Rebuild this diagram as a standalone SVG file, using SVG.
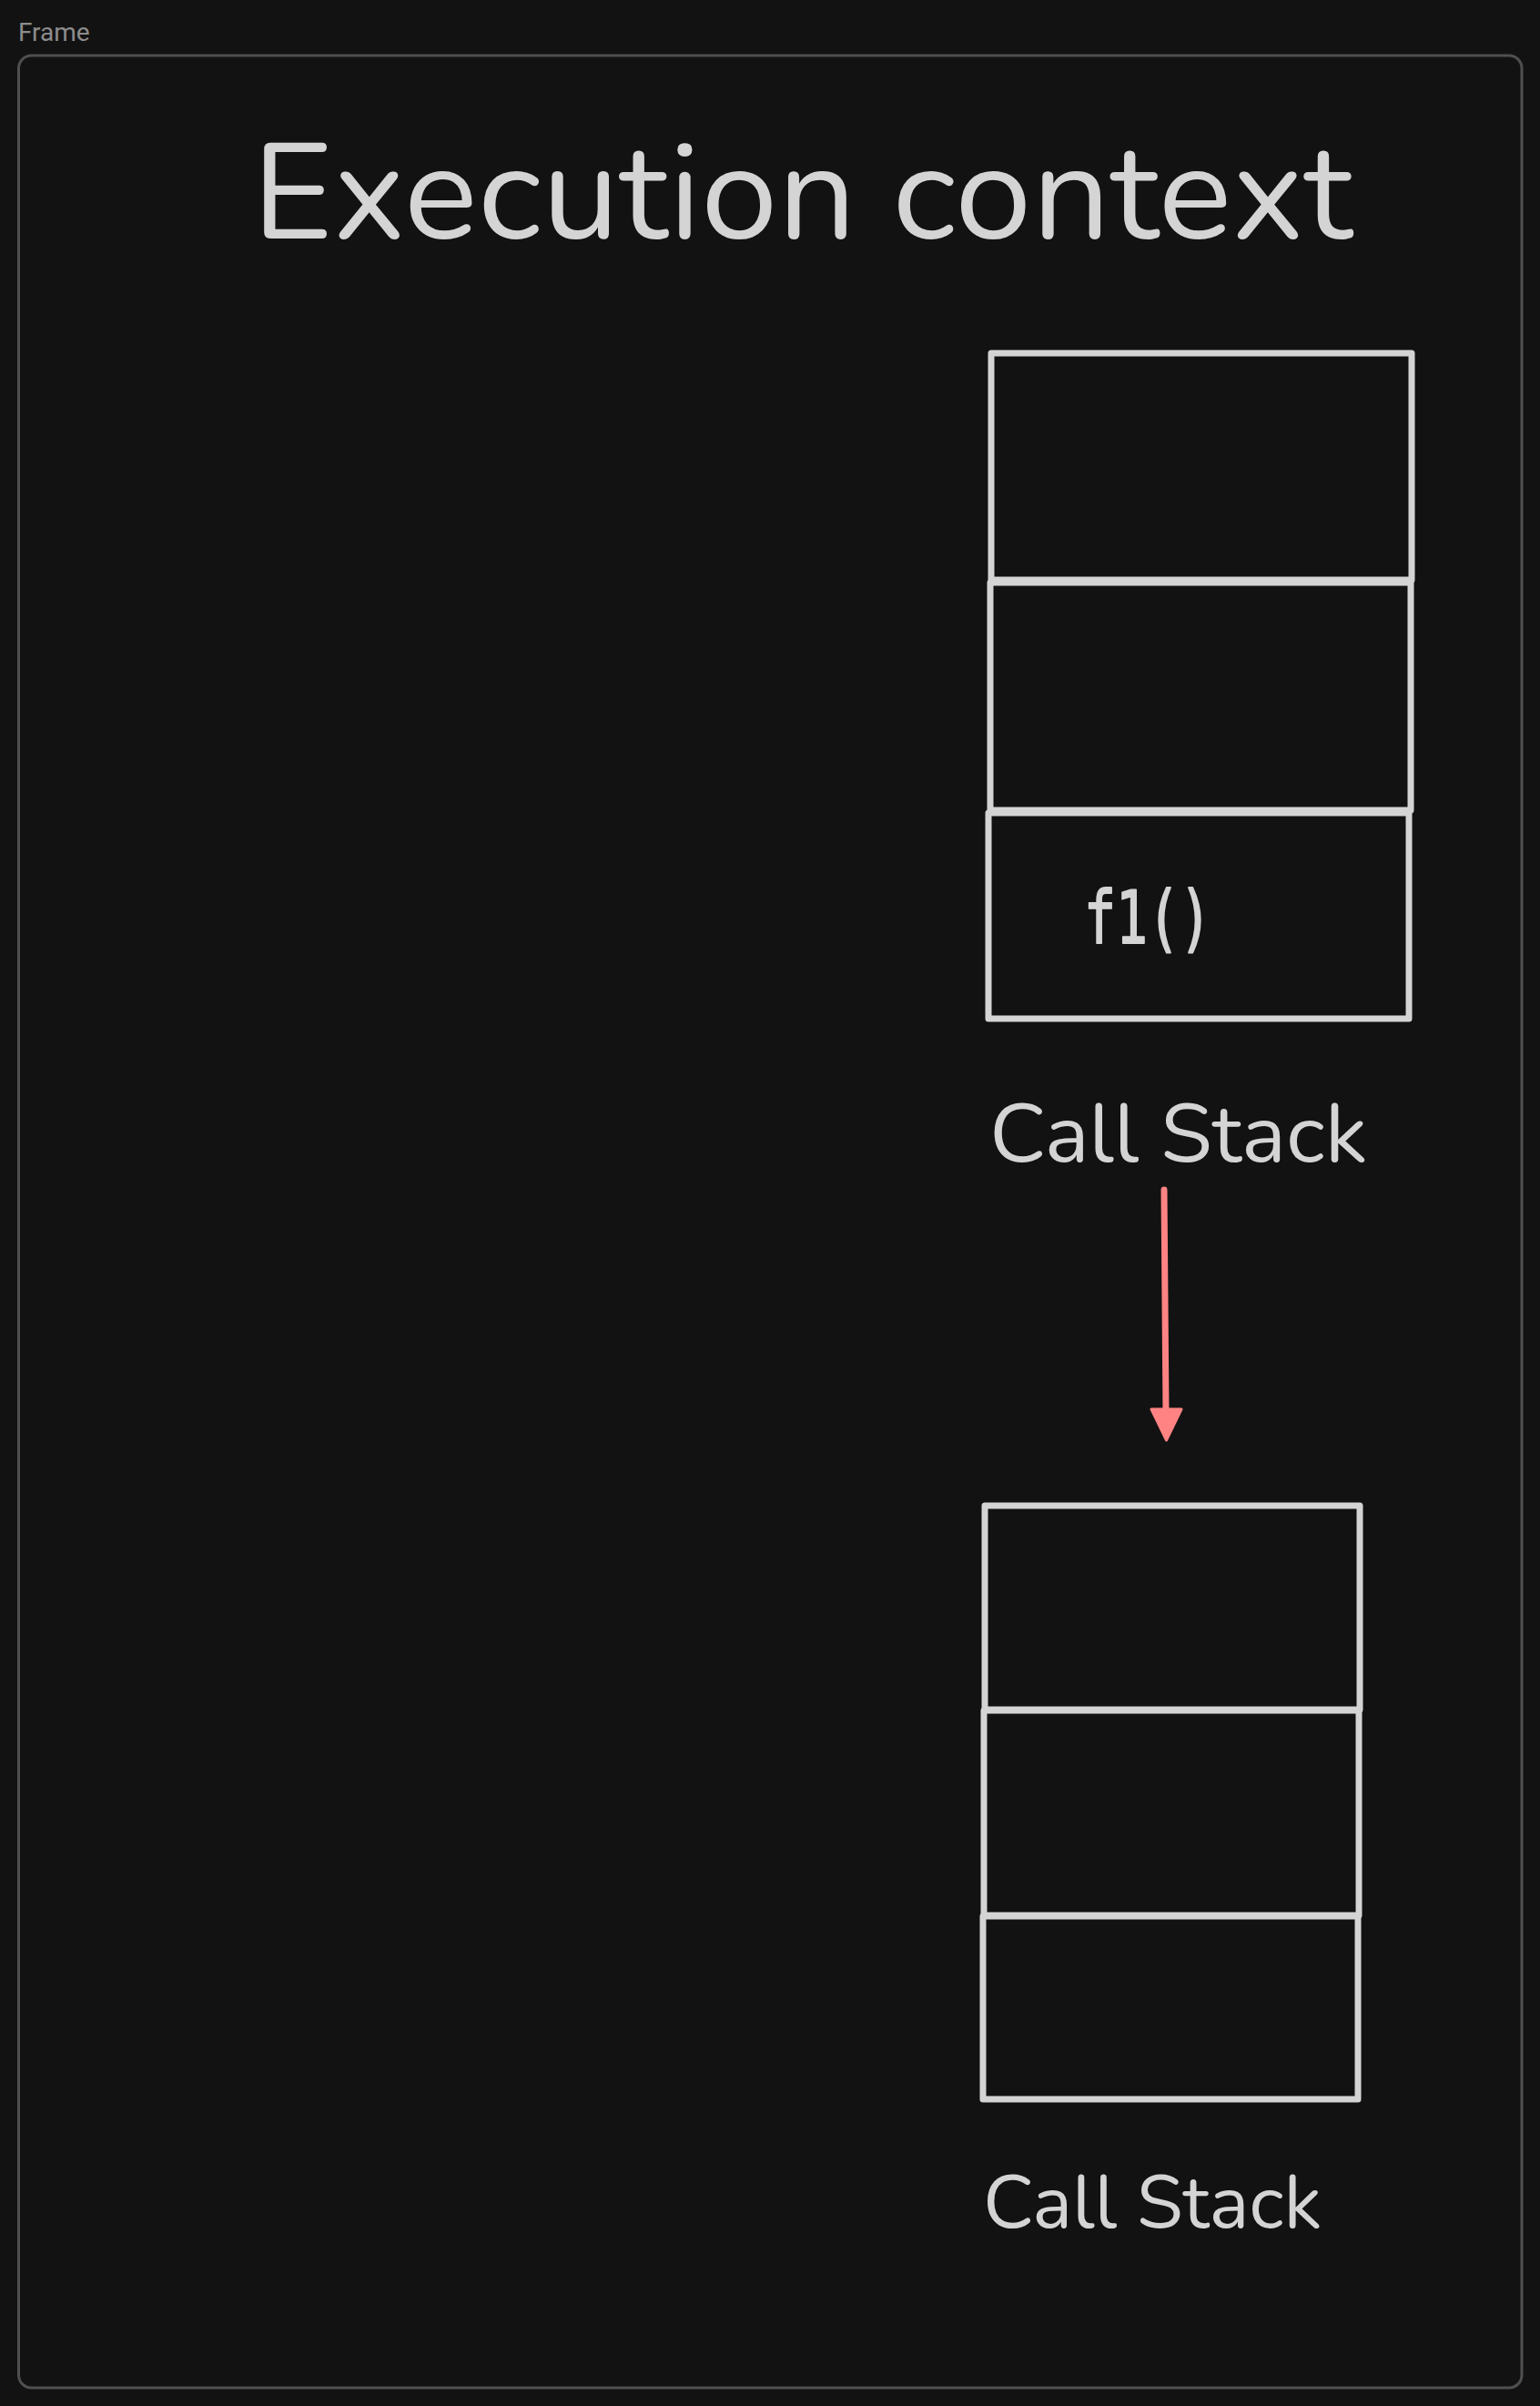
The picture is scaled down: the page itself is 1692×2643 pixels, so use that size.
<svg xmlns="http://www.w3.org/2000/svg" width="1692" height="2643" viewBox="0 0 1692 2643">
  <defs>
    <style>
      .txt { fill: #d4d4d4; font-family: "Nunito", "Noto Sans", "Open Sans", sans-serif; }
      .mono { fill: #d4d4d4; stroke: #d4d4d4; stroke-width: 2; stroke-linejoin: round; font-family: "DejaVu Sans Mono", "Liberation Mono", monospace; }
      .box { fill: none; stroke: #d4d4d4; stroke-width: 7; stroke-linejoin: round; stroke-linecap: round; }
      .frame { fill: none; stroke: #4f4f4f; stroke-width: 3; }
      .conn { fill: none; stroke: #ff8383; stroke-width: 7; stroke-linecap: round; }
    </style>
  </defs>
  <rect x="0" y="0" width="1692" height="2643" fill="#121212"/>
  <g id="frame">
    <text x="20" y="45" font-family="Roboto, 'Noto Sans', sans-serif" font-size="28" fill="#8c8c8c">Frame</text>
    <rect class="frame" x="20.5" y="61" width="1651.5" height="2562" rx="14" ry="14"/>
  </g>
  <g id="title">
    <text class="txt" x="277" y="262" font-size="150" textLength="1209" lengthAdjust="spacingAndGlyphs">Execution context</text>
  </g>
  <g id="stack1">
    <g id="stack1-slot1"><path class="box" d="M1089 388 L1551 388 L1551 637 L1089 637 Z"/></g>
    <g id="stack1-slot2"><path class="box" d="M1088 640 L1550 640 L1550 890 L1088 890 Z"/></g>
    <g id="stack1-slot3">
      <path class="box" d="M1086 893 L1548 893 L1548 1119 L1086 1119 Z"/>
      <text class="mono" x="1191" y="1036" font-size="81" textLength="140" lengthAdjust="spacingAndGlyphs">f1()</text>
    </g>
    <g id="stack1-label">
      <text class="txt" x="1087" y="1276" font-size="90" textLength="415" lengthAdjust="spacingAndGlyphs">Call Stack</text>
    </g>
  </g>
  <g id="connectors">
    <path class="conn" d="M1279 1307 L1281 1552"/>
    <path d="M1265 1548 L1298 1548 L1281.5 1582 Z" fill="#ff8383" stroke="#ff8383" stroke-width="3" stroke-linejoin="round"/>
  </g>
  <g id="stack2">
    <g id="stack2-slot1"><path class="box" d="M1082 1654 L1494 1654 L1494 1878 L1082 1878 Z"/></g>
    <g id="stack2-slot2"><path class="box" d="M1081 1879 L1493 1879 L1493 2104 L1081 2104 Z"/></g>
    <g id="stack2-slot3"><path class="box" d="M1080 2105 L1492 2105 L1492 2306 L1080 2306 Z"/></g>
    <g id="stack2-label">
      <text class="txt" x="1080" y="2447" font-size="83" textLength="372" lengthAdjust="spacingAndGlyphs">Call Stack</text>
    </g>
  </g>
</svg>
